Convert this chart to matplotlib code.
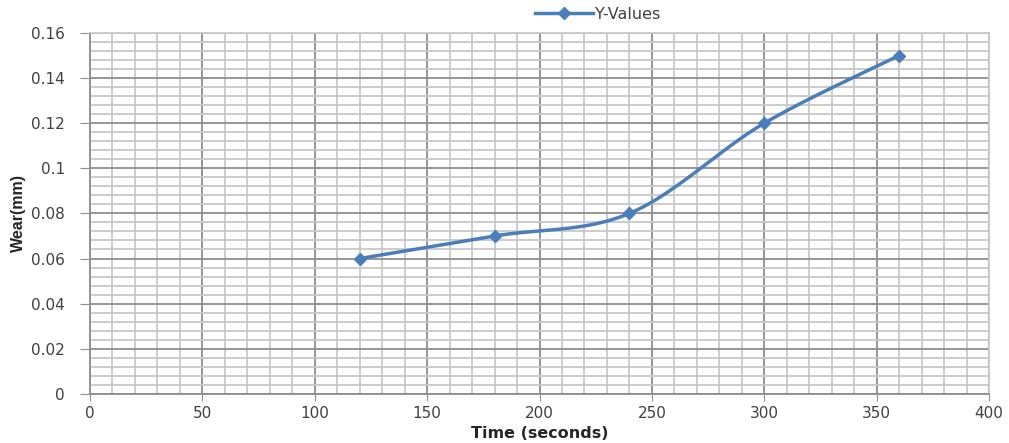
import numpy as np
import matplotlib
matplotlib.use("Agg")
import matplotlib.pyplot as plt
from matplotlib.ticker import MultipleLocator
from matplotlib.lines import Line2D

# Measurements
time_s = [120, 180, 240, 300, 360]
wear_mm = [0.06, 0.07, 0.08, 0.12, 0.15]
series_name = "Y-Values"
x_label = "Time (seconds)"
y_label = "Wear(mm)"
y_ticks = [0, 0.02, 0.04, 0.06, 0.08, 0.1, 0.12, 0.14, 0.16]
y_tick_labels = ["0", "0.02", "0.04", "0.06", "0.08", "0.1", "0.12", "0.14", "0.16"]


def smooth_curve(xs, ys, n=60):
    """Cardinal (Catmull-Rom style) Bezier smoothing through the points."""
    p = np.column_stack([xs, ys]).astype(float)
    out = []
    for i in range(len(p) - 1):
        p0 = p[i - 1] if i > 0 else p[i]
        p1, p2 = p[i], p[i + 1]
        p3 = p[i + 2] if i + 2 < len(p) else p[i + 1]
        c1 = p1 + (p2 - p0) / 6.0
        c2 = p2 - (p3 - p1) / 6.0
        t = np.linspace(0, 1, n)[:, None]
        seg = ((1 - t) ** 3) * p1 + 3 * ((1 - t) ** 2) * t * c1 + 3 * (1 - t) * t ** 2 * c2 + t ** 3 * p2
        out.append(seg if i == 0 else seg[1:])
    s = np.vstack(out)
    return s[:, 0], s[:, 1]


plt.rcParams["font.family"] = ["DejaVu Sans"]

fig = plt.figure(figsize=(10.09, 4.43), dpi=100)
ax = fig.add_axes([0.0892, 0.111, 0.8910, 0.8145])

ax.set_xlim(0, 400)
ax.set_ylim(0, 0.16)
ax.xaxis.set_major_locator(MultipleLocator(50))
ax.xaxis.set_minor_locator(MultipleLocator(10))
ax.set_yticks(y_ticks)
ax.set_yticklabels(y_tick_labels)
ax.yaxis.set_minor_locator(MultipleLocator(0.004))

ax.grid(which="minor", color="#c8c8c8", linewidth=1.3)
ax.grid(which="major", color="#8e8e8e", linewidth=1.3)
ax.set_axisbelow(True)

for side in ("top", "right"):
    ax.spines[side].set_color("#c8c8c8")
    ax.spines[side].set_linewidth(1.3)
for side in ("left", "bottom"):
    ax.spines[side].set_color("#8e8e8e")
    ax.spines[side].set_linewidth(1.3)

ax.tick_params(which="major", direction="out", color="#8e8e8e",
               labelsize=11, labelcolor="#404040")
ax.tick_params(axis="y", which="major", length=7, pad=11)
ax.tick_params(axis="x", which="major", length=5, pad=4)
ax.tick_params(which="minor", length=0)

sx, sy = smooth_curve(time_s, wear_mm)
line_color = "#4a7ebb"
ax.plot(sx, sy, color=line_color, linewidth=2.5, solid_capstyle="round")
ax.plot(time_s, wear_mm, linestyle="none", marker="D", markersize=6.5,
        color=line_color)

handle = Line2D([], [], color=line_color, linewidth=2.5, marker="D", markersize=6.5)
ax.legend([handle], [series_name], loc="center", bbox_to_anchor=(0.565, 1.052),
          frameon=False, fontsize=11.5, handlelength=3.6, handletextpad=0.15,
          borderaxespad=0, borderpad=0, labelcolor="#404040")

ax.set_xlabel(x_label, fontsize=11.5, fontweight="bold", color="#262626")
ax.xaxis.set_label_coords(0.5, -0.088)
ax.set_ylabel(y_label, fontsize=11.5, fontweight="bold", color="#262626",
              family=["Liberation Sans"])
ax.yaxis.set_label_coords(-0.080, 0.5)
ax.yaxis.label.set_verticalalignment("center")

fig.savefig("out.png", dpi=100)
